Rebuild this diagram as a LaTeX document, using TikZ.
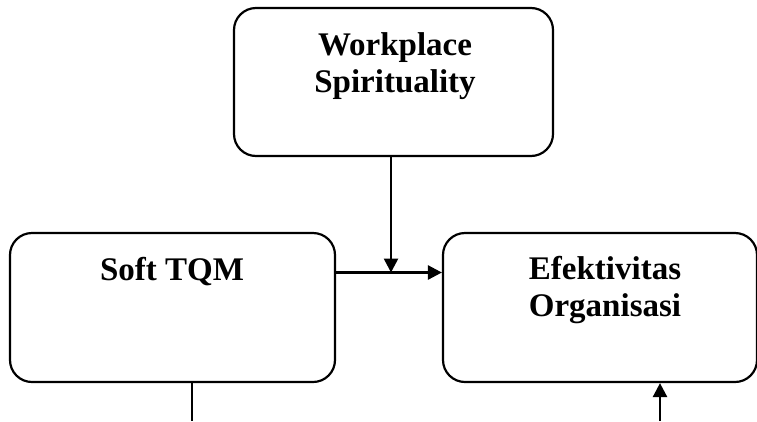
\documentclass[tikz,border=0pt]{standalone}
\usepackage{fontspec}
\setmainfont{Liberation Serif}
\usetikzlibrary{arrows.meta}
\begin{document}
\begin{tikzpicture}[x=1pt,y=-1pt,
  box/.style={draw,line width=2.2pt,rounded corners=22pt,inner sep=0pt},
  lbl/.style={font=\fontsize{33}{37}\selectfont\bfseries,align=center},
  conn/.style={line width=2.6pt},
  arr/.style={conn,-{Triangle[length=14pt,width=14pt]}}]
\useasboundingbox (0,0) rectangle (757,421);
\node[box,minimum width=319pt,minimum height=148pt] (ws) at (393.5,82) {};
\node[box,minimum width=325pt,minimum height=149pt] (soft) at (172.5,307.5) {};
\node[box,minimum width=314pt,minimum height=149pt] (efek) at (600,307.5) {};
\node[lbl] (wst) at (395,66) {Workplace\\Spirituality};
\node[lbl] (softt) at (172,272) {Soft TQM};
\node[lbl] (efekt) at (605,290) {Efektivitas\\Organisasi};
\coordinate (j) at (391,272.5);
\coordinate (b1) at (192,421);
\coordinate (b2) at (660,421);
\draw[arr] (ws.south -| j) -- (j);
\draw[arr] (soft.east |- j) -- (efek.west |- j);
\draw[conn] (soft.south -| b1) -- (b1);
\draw[arr] (b2) -- (efek.south -| b2);
\end{tikzpicture}
\end{document}
